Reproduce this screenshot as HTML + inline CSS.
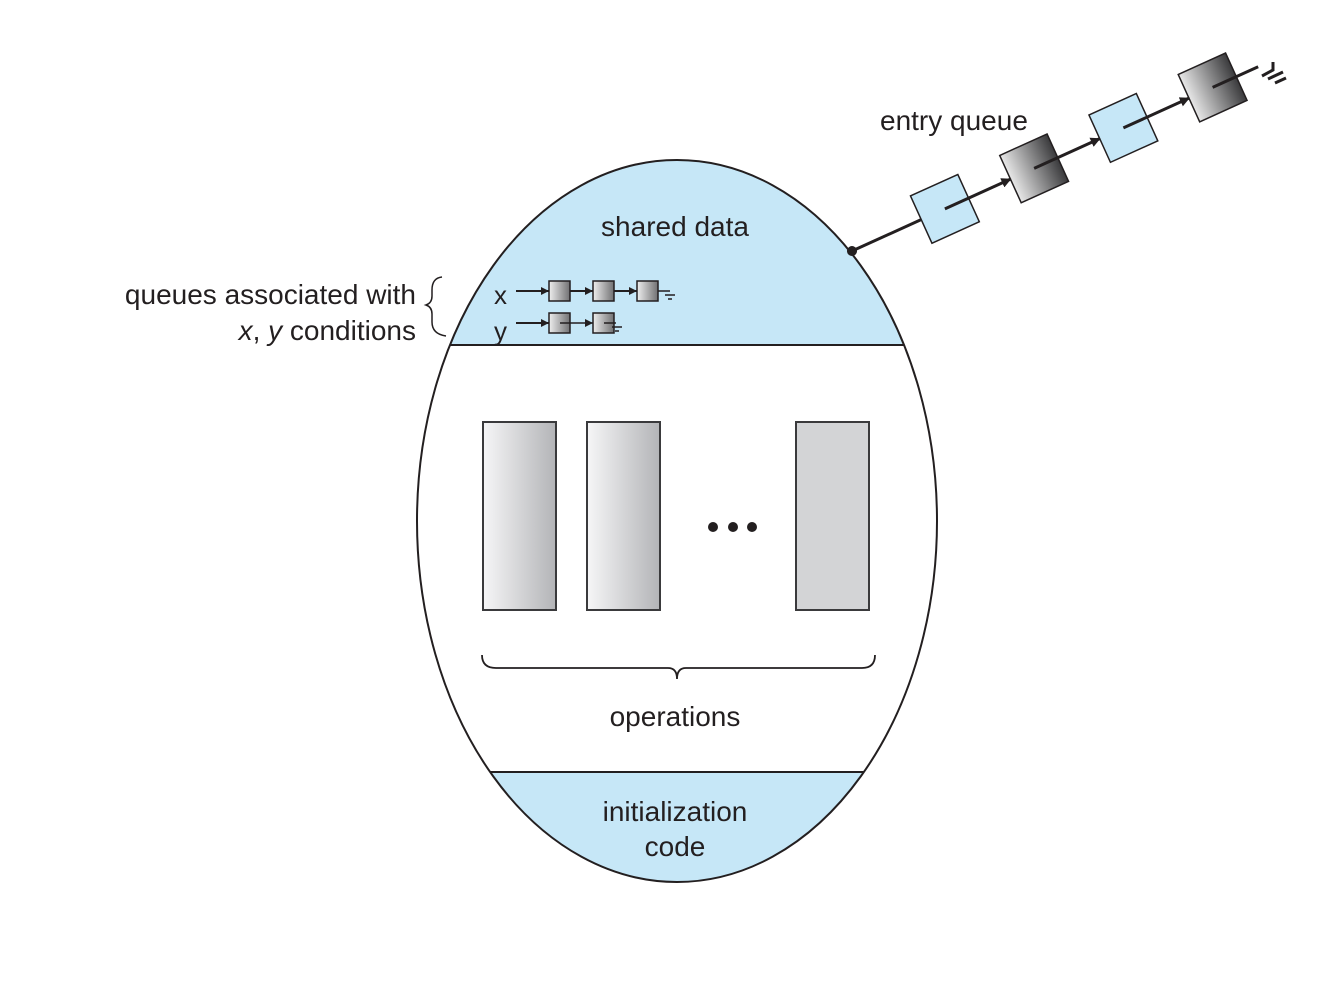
<!DOCTYPE html>
<html><head><meta charset="utf-8"><style>
html,body{margin:0;padding:0;background:#fff;}
svg text{font-family:"Liberation Sans",Arial,sans-serif;fill:#231f20;}
</style></head><body>
<svg width="1339" height="1000" viewBox="0 0 1339 1000" xmlns="http://www.w3.org/2000/svg">
<defs>
<clipPath id="eg"><ellipse cx="677" cy="521" rx="260" ry="361"/></clipPath>
<linearGradient id="g1" x1="0" x2="1" y1="0" y2="0"><stop offset="0" stop-color="#f6f6f7"/><stop offset="1" stop-color="#b3b4b7"/></linearGradient>
<linearGradient id="g2" x1="0" x2="1" y1="0" y2="0"><stop offset="0" stop-color="#e8e8e8"/><stop offset="1" stop-color="#3a3a3c"/></linearGradient>
<linearGradient id="g3" x1="0" x2="1" y1="0" y2="0"><stop offset="0" stop-color="#eeeeee"/><stop offset="1" stop-color="#707072"/></linearGradient>
<marker id="ah" markerWidth="10" markerHeight="10" refX="9" refY="5" orient="auto" markerUnits="userSpaceOnUse"><path d="M0,0 L10,5 L0,10 z" fill="#231f20"/></marker>
<marker id="as" markerWidth="8" markerHeight="8" refX="8" refY="4" orient="auto" markerUnits="userSpaceOnUse"><path d="M0,0 L8,4 L0,8 z" fill="#231f20"/></marker>
</defs>
<g clip-path="url(#eg)">
<rect x="400" y="150" width="560" height="195" fill="#c6e7f7"/>
<rect x="400" y="772" width="560" height="120" fill="#c6e7f7"/>
</g>
<line x1="400" y1="345" x2="960" y2="345" stroke="#231f20" stroke-width="2" clip-path="url(#eg)"/>
<line x1="400" y1="772" x2="960" y2="772" stroke="#231f20" stroke-width="2" clip-path="url(#eg)"/>
<ellipse cx="677" cy="521" rx="260" ry="361" fill="none" stroke="#231f20" stroke-width="2"/>

<text x="675" y="236" font-size="28" text-anchor="middle">shared data</text>
<text x="675" y="726" font-size="28" text-anchor="middle">operations</text>
<text x="675" y="821" font-size="28" text-anchor="middle">initialization</text>
<text x="675" y="856" font-size="28" text-anchor="middle">code</text>
<text x="416" y="304" font-size="28" text-anchor="end">queues associated with</text>
<text x="416" y="340" font-size="28" text-anchor="end"><tspan font-style="italic">x</tspan>, <tspan font-style="italic">y</tspan> conditions</text>
<path d="M442,277 Q432,278 432,290 L432,296 Q432,303 426,305 Q432,307 432,314 L432,322 Q432,334 446,336" fill="none" stroke="#231f20" stroke-width="1.5"/>

<!-- small queues -->
<text x="494" y="304" font-size="26">x</text>
<text x="494" y="340" font-size="26">y</text>
<g stroke="#231f20" stroke-width="2">
<line x1="516" y1="291" x2="549" y2="291" marker-end="url(#as)"/>
<line x1="560" y1="291" x2="593" y2="291" marker-end="url(#as)"/>
<line x1="604" y1="291" x2="637" y2="291" marker-end="url(#as)"/>
<line x1="516" y1="323" x2="549" y2="323" marker-end="url(#as)"/>
</g>
<g stroke="#231f20" stroke-width="1.5" fill="url(#g3)">
<rect x="549" y="281" width="21" height="20"/><rect x="593" y="281" width="21" height="20"/><rect x="637" y="281" width="21" height="20"/>
<rect x="549" y="313" width="21" height="20"/><rect x="593" y="313" width="21" height="20"/>
</g>
<g stroke="#231f20" stroke-width="1.5">
<line x1="560" y1="323" x2="593" y2="323" marker-end="url(#as)"/>
<path d="M658,291 H670 M665,295 H675 M668,299 H672"/>
<path d="M604,323 H616 M612,327 H622 M615,331 H619"/>
</g>

<!-- operation boxes -->
<g stroke="#3a3a3c" stroke-width="2">
<rect x="483" y="422" width="73" height="188" fill="url(#g1)"/>
<rect x="587" y="422" width="73" height="188" fill="url(#g1)"/>
<rect x="796" y="422" width="73" height="188" fill="#d3d4d6"/>
</g>
<circle cx="713" cy="527" r="5" fill="#231f20"/><circle cx="733" cy="527" r="5" fill="#231f20"/><circle cx="752" cy="527" r="5" fill="#231f20"/>
<path d="M482,655 Q482,668 496,668 L668,668 Q677,668 677,679 Q677,668 686,668 L862,668 Q875,668 875,655" fill="none" stroke="#231f20" stroke-width="1.8"/>

<!-- entry queue -->
<text x="880" y="130" font-size="28">entry queue</text>
<g transform="translate(852,251) rotate(-24.4)">
<line x1="0" y1="0" x2="78" y2="0" stroke="#231f20" stroke-width="3"/>
<circle cx="0" cy="0" r="5" fill="#231f20"/>
<g stroke="#231f20" stroke-width="1.5">
<rect x="76" y="-26" width="52" height="52" fill="#c6e7f7"/>
<rect x="174" y="-26" width="52" height="52" fill="url(#g2)"/>
<rect x="272" y="-26" width="52" height="52" fill="#c6e7f7"/>
<rect x="370" y="-26" width="52" height="52" fill="url(#g2)"/>
</g>
<g stroke="#231f20" stroke-width="3">
<line x1="102" y1="0" x2="174" y2="0" marker-end="url(#ah)"/>
<line x1="200" y1="0" x2="272" y2="0" marker-end="url(#ah)"/>
<line x1="298" y1="0" x2="370" y2="0" marker-end="url(#ah)"/>
<line x1="396" y1="0" x2="446" y2="0"/>
</g>
</g>
<path d="M1262,76 L1273,70 L1273,62 M1268,79 L1283,72 M1275,83 L1286,78" stroke="#231f20" stroke-width="3" fill="none"/>
</svg>
</body></html>
